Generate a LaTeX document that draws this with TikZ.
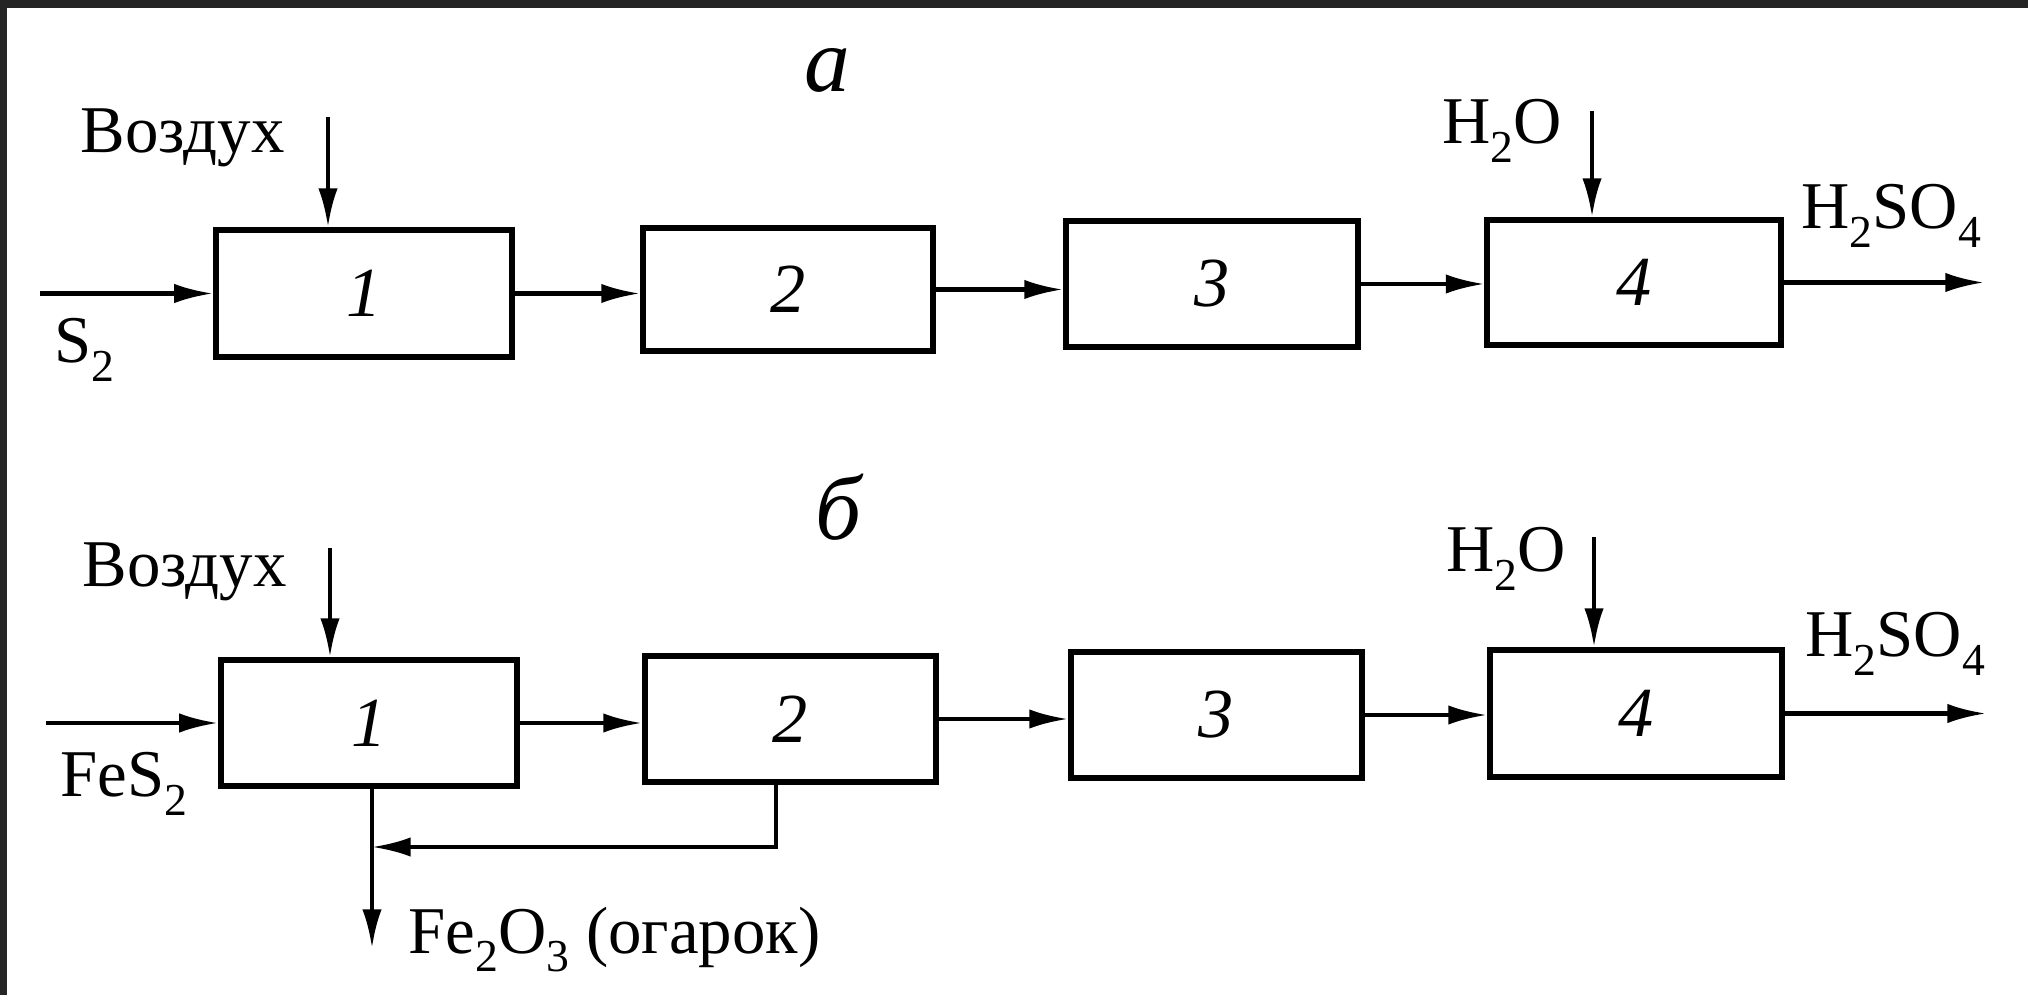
\documentclass[tikz,border=0pt]{standalone}
\usepackage{fontspec}
\setmainfont{Liberation Serif}
\usetikzlibrary{arrows.meta}
\definecolor{framegray}{HTML}{252525}
\newcommand{\chsub}[1]{\raisebox{-0.28em}{\fontsize{13}{13}\selectfont #1}}
\begin{document}
\begin{tikzpicture}[x=0.01cm,y=-0.01cm,
  box/.style={draw,line width=1.7pt,rectangle,inner sep=0pt,font=\fontsize{20}{22}\selectfont\itshape},
  arr/.style={line width=1.2pt,-{Latex[length=11pt,width=5.5pt]}},
  lbl/.style={inner sep=0pt,anchor=base west,font=\fontsize{19}{22}\selectfont},
  pname/.style={inner sep=0pt,anchor=base,font=\fontsize{26}{28}\selectfont\itshape}]
\fill[white] (0,0) rectangle (2028,995);
\fill[framegray] (0,0) rectangle (2028,8);
\fill[framegray] (0,0) rectangle (7,995);
\useasboundingbox (0,0) rectangle (2028,995);

% ---------- scheme a ----------
\node[pname] (ta) at (827,92) {а};
\node[box,minimum width=2.96cm,minimum height=1.27cm] (a1) at (364,293.5) {1};
\node[box,minimum width=2.90cm,minimum height=1.23cm] (a2) at (788,289.5) {2};
\node[box,minimum width=2.92cm,minimum height=1.26cm] (a3) at (1212,284) {3};
\node[box,minimum width=2.93cm,minimum height=1.25cm] (a4) at (1634,282.5) {4};
\node[lbl] (airlA) at (80,153) {Воздух};
\node[lbl] (s2) at (54,363) {S\chsub{2}};
\node[lbl] (h2oA) at (1442,144) {H\chsub{2}O};
\node[lbl] (h2so4A) at (1801,229) {H\chsub{2}SO\chsub{4}};
\coordinate (inA) at (40,0);
\coordinate (airA) at (328,117);
\coordinate (watA) at (1592,111);
\coordinate (outA) at (1984,0);
\draw[arr] (inA |- a1.west) -- (a1.west);
\draw[arr] (airA) -- (airA |- a1.north);
\draw[arr] (a1.east) -- (a2.west |- a1.east);
\draw[arr] (a2.east) -- (a3.west |- a2.east);
\draw[arr] (a3.east) -- (a4.west |- a3.east);
\draw[arr] (watA) -- (watA |- a4.north);
\draw[arr] (a4.east) -- (outA |- a4.east);

% ---------- scheme b ----------
\node[pname] (tb) at (838,540) {б};
\node[box,minimum width=2.96cm,minimum height=1.26cm] (b1) at (369,723) {1};
\node[box,minimum width=2.91cm,minimum height=1.26cm] (b2) at (790.5,719) {2};
\node[box,minimum width=2.91cm,minimum height=1.26cm] (b3) at (1216.5,715) {3};
\node[box,minimum width=2.92cm,minimum height=1.27cm] (b4) at (1636,713.5) {4};
\node[lbl] (airlB) at (82,587) {Воздух};
\node[lbl] (fes2) at (60,797) {FeS\chsub{2}};
\node[lbl] (h2oB) at (1446,572) {H\chsub{2}O};
\node[lbl] (h2so4B) at (1805,657) {H\chsub{2}SO\chsub{4}};
\node[lbl] (fe2o3) at (408,953) {Fe\chsub{2}O\chsub{3} (огарок)};
\coordinate (inB) at (46,0);
\coordinate (airB) at (330,548);
\coordinate (watB) at (1594,537);
\coordinate (outB) at (1986,0);
\coordinate (dn) at (372,948);
\coordinate (fb) at (776,847);
\draw[arr] (inB |- b1.west) -- (b1.west);
\draw[arr] (airB) -- (airB |- b1.north);
\draw[arr] (b1.east) -- (b2.west |- b1.east);
\draw[arr] (b2.east) -- (b3.west |- b2.east);
\draw[arr] (b3.east) -- (b4.west |- b3.east);
\draw[arr] (watB) -- (watB |- b4.north);
\draw[arr] (b4.east) -- (outB |- b4.east);
\draw[arr] (dn |- b1.south) -- (dn);
\draw[arr] (fb |- b2.south) -- (fb) -- (fb -| dn);
\end{tikzpicture}
\end{document}
